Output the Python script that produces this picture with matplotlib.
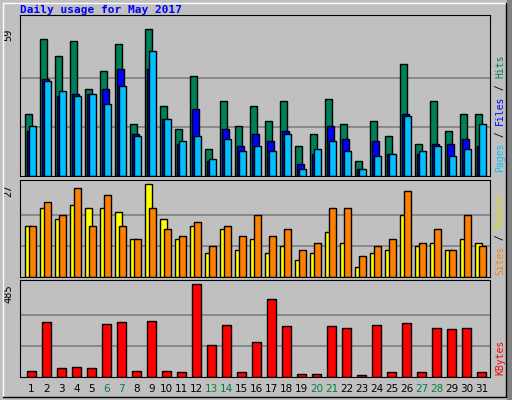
import matplotlib
matplotlib.use("Agg")
import matplotlib.pyplot as plt
import numpy as np

days = np.arange(1, 32)
hits = [25, 55, 48, 54, 35, 42, 53, 21, 59, 28, 19, 40, 11, 30, 20, 28,
        22, 30, 12, 17, 31, 21, 6, 22, 16, 45, 13, 30, 18, 25, 25]
files = [18, 39, 32, 33, 33, 35, 43, 17, 43, 23, 13, 27, 6, 19, 12, 17,
         14, 18, 5, 9, 20, 15, 3, 14, 9, 25, 9, 13, 13, 15, 12]
pages = [20, 38, 34, 32, 33, 29, 36, 16, 50, 23, 14, 16, 7, 15, 10, 12,
         10, 17, 3, 11, 14, 10, 3, 8, 9, 24, 10, 12, 8, 11, 21]
sites = [15, 20, 17, 21, 20, 20, 19, 11, 27, 17, 11, 15, 7, 14, 8, 11,
         7, 9, 5, 7, 13, 10, 3, 7, 8, 18, 9, 10, 8, 11, 10]
visits = [15, 22, 18, 26, 15, 24, 15, 11, 20, 14, 12, 16, 9, 15, 12, 18,
          12, 14, 8, 10, 20, 20, 6, 9, 11, 25, 10, 14, 8, 18, 9]
kbytes = [32, 285, 47, 53, 47, 274, 285, 32, 290, 32, 26, 485, 169, 269, 26, 185,
          406, 264, 16, 16, 264, 258, 10, 269, 26, 280, 26, 258, 253, 258, 26]
weekend = [6, 7, 13, 14, 20, 21, 27, 28]

W, H = 512, 400
fig = plt.figure(figsize=(W / 100, H / 100), dpi=100, facecolor="#C0C0C0")

def px_axes(x0, y0, x1, y1):
    return fig.add_axes([x0 / W, 1 - y1 / H, (x1 - x0) / W, (y1 - y0) / H])

def style(ax, top, maxv, label):
    ax.set_facecolor("#C0C0C0")
    ax.set_xlim(0.667, 32)
    ax.set_ylim(0, top)
    for v in (maxv / 3, 2 * maxv / 3):
        ax.axhline(v, color="#808080", lw=1.2, zorder=0)
    ax.set_xticks([])
    ax.set_yticks([])
    for s in ax.spines.values():
        s.set_color("black")
    ax.text(-0.014, maxv / top, label, transform=ax.transAxes, rotation=90,
            ha="right", va="top", fontsize=7.5, family="DejaVu Sans Mono")

ec = dict(edgecolor="black", linewidth=1, align="edge")

ax1 = px_axes(20, 15, 490, 176)
ax1.bar(days, hits, 0.47, color="#00805A", **ec)
ax1.bar(days + 0.13, files, 0.47, color="#0000FF", **ec)
ax1.bar(days + 0.27, pages, 0.47, color="#00C0FF", **ec)
style(ax1, 64.6, 59, "59")

ax2 = px_axes(20, 180, 490, 277)
ax2.bar(days, sites, 0.47, color="#FFFF00", **ec)
ax2.bar(days + 0.27, visits, 0.47, color="#FF8000", **ec)
style(ax2, 28.3, 27, "27")

ax3 = px_axes(20, 280, 490, 377)
ax3.bar(days + 0.13, kbytes, 0.6, color="#FF0000", **ec)
style(ax3, 506, 485, "485")

for d in days:
    ax3.text(d + 0.43, -0.12, str(d), transform=ax3.get_xaxis_transform(),
             ha="center", va="center", fontsize=7.5,
             color="#008040" if d in weekend else "black")

fig.text(20 / W, 1 - 10 / H, "Daily usage for May 2017", color="#0000FF",
         fontsize=8, weight="bold", family="DejaVu Sans Mono", va="center")

renderer = fig.canvas.get_renderer()

def side(parts, y_bottom):
    y = y_bottom
    for txt, col in parts:
        t = fig.text(500 / W, 1 - y / H, txt, color=col, rotation=90,
                     ha="center", va="bottom", fontsize=7, family="DejaVu Sans Mono")
        y -= t.get_window_extent(renderer).height

side([("Pages", "#00C0FF"), (" / ", "black"), ("Files", "#0000FF"),
      (" / ", "black"), ("Hits", "#00805A")], 172)
side([("Sites", "#FF8000"), (" / ", "black"), ("Visits", "#E0E000")], 275)
side([("KBytes", "#FF0000")], 375)

fig.add_artist(plt.Line2D([3 / W, 3 / W, 506 / W], [3 / H, 397 / H, 397 / H],
                          color="white", lw=1))
fig.add_artist(plt.Line2D([3 / W, 506 / W, 506 / W], [3 / H, 3 / H, 397 / H],
                          color="black", lw=1))
fig.add_artist(plt.Rectangle((507 / W, 0), 5 / W, 1, color="#808080"))

fig.savefig("out.png", dpi=100, facecolor=fig.get_facecolor())
